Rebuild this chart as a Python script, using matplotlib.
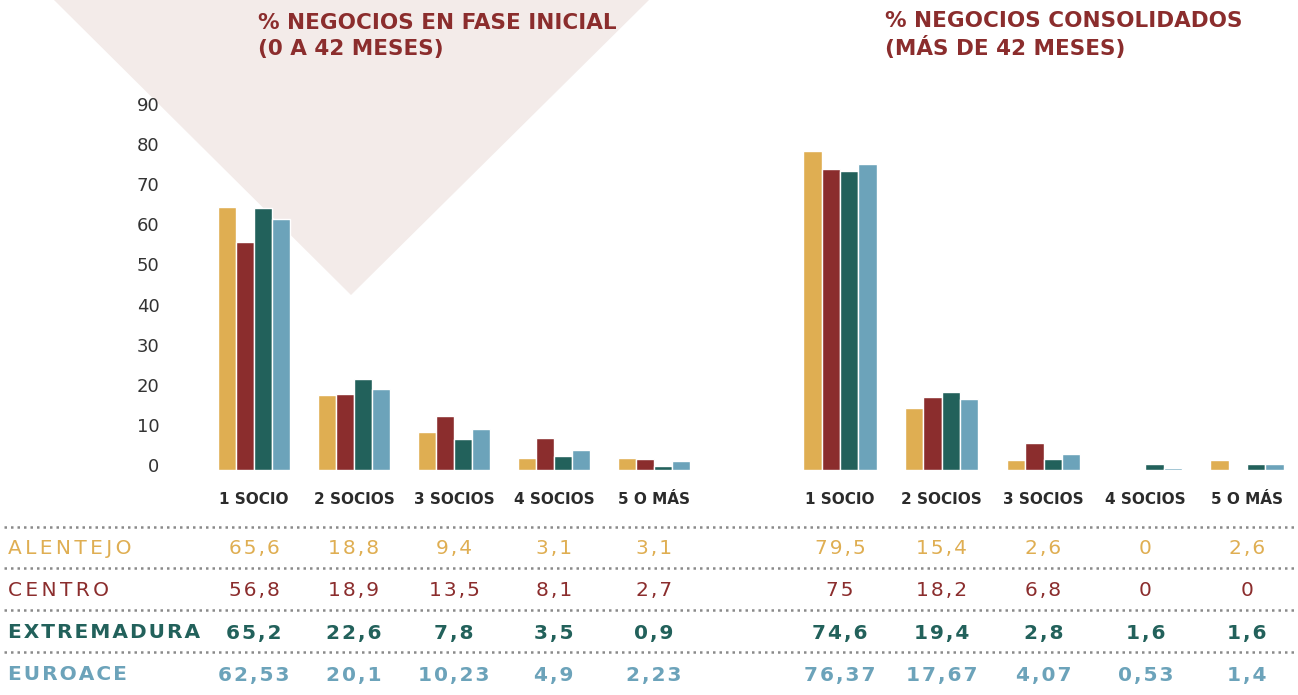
import numpy as np
import matplotlib.pyplot as plt
from matplotlib.patches import Polygon
from matplotlib.lines import Line2D
from matplotlib.transforms import blended_transform_factory, ScaledTranslation

# Data (percentages)
categorias = ["1 SOCIO", "2 SOCIOS", "3 SOCIOS", "4 SOCIOS", "5 O MÁS"]
regiones = ["ALENTEJO", "CENTRO", "EXTREMADURA", "EUROACE"]
colores = ["#DFAE52", "#8B2D2D", "#22615B", "#6CA3BA"]

ini_alentejo = [65.6, 18.8, 9.4, 3.1, 3.1]
ini_centro = [56.8, 18.9, 13.5, 8.1, 2.7]
ini_extremadura = [65.2, 22.6, 7.8, 3.5, 0.9]
ini_euroace = [62.53, 20.1, 10.23, 4.9, 2.23]

con_alentejo = [79.5, 15.4, 2.6, 0, 2.6]
con_centro = [75, 18.2, 6.8, 0, 0]
con_extremadura = [74.6, 19.4, 2.8, 1.6, 1.6]
con_euroace = [76.37, 17.67, 4.07, 0.53, 1.4]

inicial = [ini_alentejo, ini_centro, ini_extremadura, ini_euroace]
consolidado = [con_alentejo, con_centro, con_extremadura, con_euroace]

W, H = 1298, 695
fig = plt.figure(figsize=(W / 100, H / 100), dpi=100)
fig.patch.set_facecolor("white")

def fx(px):
    return px / W

def fy(py):
    return 1 - py / H

# background triangle
tri = Polygon([[fx(54), fy(0)], [fx(649), fy(0)], [fx(351), fy(295)]],
              closed=True, transform=fig.transFigure, facecolor="#F3EBE9",
              edgecolor="none", zorder=-1)
fig.patches.append(tri)

ax1 = fig.add_axes([fx(204), fy(470), 500 / W, 361 / H])
ax2 = fig.add_axes([fx(789), fy(470), 509 / W, 361 / H])

bw = 0.18
x = np.arange(len(categorias))
for ax, datos in [(ax1, inicial), (ax2, consolidado)]:
    ax.set_facecolor("none")
    ax.set_zorder(2)
    for i, serie in enumerate(datos):
        ax.bar(x + (i - 1.5) * bw, serie, width=bw, color=colores[i],
               edgecolor="white", linewidth=1)
    ax.set_xlim(-0.5, 4.5)
    ax.set_ylim(0, 90)
    for s in ax.spines.values():
        s.set_visible(False)
    ax.set_xticks(x)
    ax.set_xticklabels(categorias, fontsize=11, fontweight="bold", color="#2b2b2b")
    ax.tick_params(axis="x", length=0, pad=16)

ax1.set_yticks(range(0, 91, 10))
ax1.tick_params(axis="y", length=0, pad=32, labelsize=13, labelcolor="#333333")
for lbl in ax1.get_yticklabels():
    lbl.set_transform(lbl.get_transform() + ScaledTranslation(0, 5 / 100, fig.dpi_scale_trans))
ax2.set_yticks([])

# titles
titulo_col = "#8B2D2D"
fig.text(fx(258), fy(23), "% NEGOCIOS EN FASE INICIAL", fontsize=15.5, fontweight="bold",
         color=titulo_col, va="center")
fig.text(fx(258), fy(49), "(0 A 42 MESES)", fontsize=15.5, fontweight="bold",
         color=titulo_col, va="center")
fig.text(fx(885), fy(21), "% NEGOCIOS CONSOLIDADOS", fontsize=15.5, fontweight="bold",
         color=titulo_col, va="center")
fig.text(fx(885), fy(47), "(MÁS DE 42 MESES)", fontsize=15.5, fontweight="bold",
         color=titulo_col, va="center")

# table
for yl in [527, 568, 610, 652]:
    fig.add_artist(Line2D([fx(4), 1], [fy(yl), fy(yl)], transform=fig.transFigure,
                          color="#8a8a8a", linewidth=1.8, linestyle=(0, (1, 1.6))))

filas_y = [548, 590, 633, 675]
pesos = ["normal", "normal", "bold", "bold"]
sep_nombre = ["\u2006", "\u2006", "\u200a", "\u200a"]
sep_valor = "\u200a"

def fmt(v):
    return f"{v:g}".replace(".", ",")

for r, nombre in enumerate(regiones):
    fig.text(fx(8), fy(filas_y[r]), sep_nombre[r].join(nombre), fontsize=14.5,
             fontweight=pesos[r], color=colores[r], va="center", ha="left")
    for ax, datos in [(ax1, inicial), (ax2, consolidado)]:
        tr = blended_transform_factory(ax.transData, fig.transFigure)
        for j, v in enumerate(datos[r]):
            fig.text(j, fy(filas_y[r]), sep_valor.join(fmt(v)), transform=tr, fontsize=14.5,
                     fontweight=pesos[r], color=colores[r], va="center", ha="center")

fig.savefig("out.png", dpi=100)
